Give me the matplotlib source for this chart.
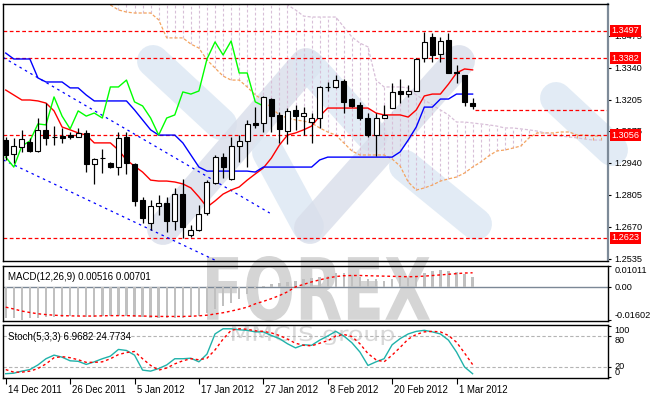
import numpy as np
import matplotlib
matplotlib.use("Agg")
import matplotlib.pyplot as plt
from matplotlib.lines import Line2D
from matplotlib.textpath import TextPath
from matplotlib.patches import PathPatch
from matplotlib.font_manager import FontProperties
from matplotlib.transforms import Affine2D, ScaledTranslation, blended_transform_factory

plt.rcParams['font.family'] = ['Liberation Sans', 'DejaVu Sans']

# ---------------- data (EURUSD daily, 14 Dec 2011 - 5 Mar 2012) ----------------
opens = [1.3036, 1.2977, 1.3007, 1.3028, 1.2990, 1.3079, 1.3049, 1.3051, 1.3057, 1.3049,
         1.3066, 1.2935, 1.2961, 1.2939, 1.2922, 1.3049, 1.2935, 1.2783, 1.2686, 1.2758,
         1.2770, 1.2694, 1.2808, 1.2635, 1.2656, 1.2728, 1.2855, 1.2964, 1.2872, 1.3011,
         1.3032, 1.3108, 1.3108, 1.3209, 1.3142, 1.3074, 1.3163, 1.3137, 1.3112, 1.3129,
         1.3261, 1.3260, 1.3285, 1.3209, 1.3184, 1.3129, 1.3057, 1.3129, 1.3171, 1.3243,
         1.3230, 1.3243, 1.3382, 1.3471, 1.3399, 1.3458, 1.3323, 1.3310, 1.3192]
highs = [1.3049, 1.3045, 1.3079, 1.3045, 1.3129, 1.3192, 1.3095, 1.3087, 1.3070, 1.3087,
         1.3079, 1.2960, 1.2998, 1.2943, 1.3070, 1.3070, 1.2939, 1.2796, 1.2783, 1.2804,
         1.2796, 1.2834, 1.2872, 1.2678, 1.2762, 1.2867, 1.2973, 1.2981, 1.3049, 1.3057,
         1.3121, 1.3175, 1.3220, 1.3213, 1.3154, 1.3171, 1.3184, 1.3175, 1.3150, 1.3264,
         1.3281, 1.3310, 1.3294, 1.3213, 1.3197, 1.3150, 1.3150, 1.3184, 1.3277, 1.3294,
         1.3268, 1.3382, 1.3492, 1.3488, 1.3471, 1.3488, 1.3353, 1.3310, 1.3213]
lows = [1.2952, 1.2939, 1.2986, 1.2986, 1.2986, 1.3015, 1.3015, 1.3024, 1.3040, 1.3049,
        1.2901, 1.2851, 1.2897, 1.2918, 1.2888, 1.2893, 1.2758, 1.2686, 1.2656, 1.2720,
        1.2648, 1.2656, 1.2623, 1.2625, 1.2652, 1.2720, 1.2851, 1.2876, 1.2867, 1.2943,
        1.2922, 1.3087, 1.3070, 1.3070, 1.3024, 1.3019, 1.3079, 1.3057, 1.3024, 1.3087,
        1.3243, 1.3256, 1.3150, 1.3175, 1.3121, 1.3049, 1.2969, 1.3129, 1.3171, 1.3192,
        1.3218, 1.3243, 1.3365, 1.3365, 1.3365, 1.3319, 1.3277, 1.3180, 1.3167]
closes = [1.2973, 1.3011, 1.3040, 1.2990, 1.3079, 1.3045, 1.3047, 1.3045, 1.3050, 1.3066,
          1.2935, 1.2956, 1.2960, 1.2922, 1.3045, 1.2939, 1.2779, 1.2707, 1.2758, 1.2770,
          1.2694, 1.2808, 1.2669, 1.2656, 1.2724, 1.2859, 1.2964, 1.2922, 1.3011, 1.3032,
          1.3104, 1.3100, 1.3218, 1.3137, 1.3083, 1.3159, 1.3137, 1.3150, 1.3129, 1.3260,
          1.3260, 1.3289, 1.3197, 1.3180, 1.3129, 1.3057, 1.3129, 1.3142, 1.3239, 1.3230,
          1.3243, 1.3378, 1.3450, 1.3395, 1.3454, 1.3319, 1.3319, 1.3197, 1.3180]

tenkan = [1.3247, 1.3226, 1.3205, 1.3205, 1.3201, 1.3192, 1.3159, 1.3091, 1.3079, 1.3066,
          1.3057, 1.3024, 1.3024, 1.3024, 1.2994, 1.2952, 1.2926, 1.2901, 1.2867, 1.2863,
          1.2863, 1.2859, 1.2851, 1.2834, 1.2796, 1.2753, 1.2779, 1.2808, 1.2825, 1.2838,
          1.2867, 1.2893, 1.2918, 1.2960, 1.3015, 1.3057, 1.3066, 1.3079, 1.3095, 1.3137,
          1.3171, 1.3171, 1.3171, 1.3171, 1.3171, 1.3171, 1.3150, 1.3142, 1.3142, 1.3142,
          1.3133, 1.3163, 1.3222, 1.3230, 1.3230, 1.3272, 1.3319, 1.3336, 1.3332]
kijun = [1.3403, 1.3378, 1.3378, 1.3378, 1.3298, 1.3281, 1.3281, 1.3281, 1.3256, 1.3256,
         1.3226, 1.3201, 1.3201, 1.3201, 1.3201, 1.3201, 1.3163, 1.3121, 1.3079, 1.3057,
         1.3057, 1.3057, 1.3024, 1.2973, 1.2922, 1.2905, 1.2905, 1.2905, 1.2905, 1.2905,
         1.2905, 1.2901, 1.2922, 1.2922, 1.2922, 1.2922, 1.2922, 1.2922, 1.2922, 1.2952,
         1.2964, 1.2964, 1.2964, 1.2964, 1.2964, 1.2964, 1.2964, 1.2964, 1.2964, 1.2986,
         1.3036, 1.3091, 1.3175, 1.3175, 1.3209, 1.3209, 1.3230, 1.3230, 1.3230]
nan = float('nan')
# Senkou spans run 26 bars ahead; values above the visible range are off-chart
span_a = [nan] * 13 + [
    1.3606, 1.3585, 1.3576, 1.3572, 1.3572, 1.3572, 1.3543, 1.3467, 1.3467, 1.3467,
    1.3441, 1.3424, 1.3374, 1.3340, 1.3306, 1.3289, 1.3289, 1.3260, 1.3226, 1.3205,
    1.3171, 1.3142, 1.3129, 1.3121, 1.3116, 1.3108, 1.3087, 1.3070, 1.3057, 1.3024,
    1.2990, 1.2973, 1.2973, 1.2973, 1.2973, 1.2956, 1.2926, 1.2859, 1.2825, 1.2834,
    1.2846, 1.2863, 1.2872, 1.2880, 1.2897, 1.2922, 1.2943, 1.2969, 1.2990, 1.2994,
    1.3002, 1.3011, 1.3045, 1.3066, 1.3066, 1.3066, 1.3070, 1.3070, 1.3057, 1.3057,
    1.3053, 1.3053]
span_b = [nan] * 13 + [1.3700] * 22 + [
    1.3606, 1.3585, 1.3559, 1.3555, 1.3555, 1.3555, 1.3555, 1.3513, 1.3471, 1.3445,
    1.3429, 1.3289, 1.3260, 1.3260, 1.3260, 1.3256, 1.3226, 1.3205, 1.3184, 1.3163,
    1.3142, 1.3112, 1.3112, 1.3108, 1.3104, 1.3100, 1.3095, 1.3087, 1.3087, 1.3083,
    1.3079, 1.3074, 1.3066, 1.3057, 1.3053, 1.3049, 1.3045, 1.3040, 1.3036, 1.3036]

# channel trend lines (bar index, price)
channel_upper = ([-0.3, 32.8], [1.3384, 1.2728])
channel_lower = ([-0.3, 32.8], [1.2952, 1.2420])
levels_full = [1.3497, 1.3382, 1.3056, 1.2623]
level_labels = ["1.3497", "1.3382", "1.3056", "1.2623"]
level_partial = (58.3, 1.3163)

price_ticks = [1.3475, 1.3340, 1.3205, 1.3075, 1.2940, 1.2805, 1.2670, 1.2535]
price_tick_labels = ["1.3475", "1.3340", "1.3205", "1.3075", "1.2940", "1.2805", "1.2670", "1.2535"]

macd_hist = [-0.0150, -0.0150, -0.0157, -0.0150, -0.0150, -0.0145, -0.0145, -0.0145, -0.0141, -0.0141,
             -0.0145, -0.0145, -0.0141, -0.0137, -0.0137, -0.0141, -0.0145, -0.0145, -0.0150, -0.0150,
             -0.0150, -0.0150, -0.0150, -0.0145, -0.0137, -0.0124, -0.0104, -0.0090, -0.0075, -0.0055,
             -0.0030, -0.0010, 0.0007, 0.0017, 0.0022, 0.0027, 0.0032, 0.0038, 0.0043, 0.0052,
             0.0057, 0.0067, 0.0067, 0.0060, 0.0052, 0.0040, 0.0040, 0.0032, 0.0040, 0.0043,
             0.0043, 0.0057, 0.0071, 0.0080, 0.0086, 0.0080, 0.0076, 0.0063, 0.00516]
macd_signal = [-0.0096, -0.0105, -0.0115, -0.0122, -0.0128, -0.0132, -0.0135, -0.0137, -0.0138, -0.0139,
               -0.0139, -0.0139, -0.0138, -0.0137, -0.0137, -0.0137, -0.0138, -0.0139, -0.0140, -0.0141,
               -0.0141, -0.0141, -0.0141, -0.0140, -0.0138, -0.0135, -0.0129, -0.0123, -0.0115, -0.0106,
               -0.0096, -0.0080, -0.0068, -0.0055, -0.0040, -0.0022, 0.0002, 0.0014, 0.0026, 0.0036,
               0.0045, 0.0052, 0.0056, 0.0057, 0.0057, 0.0056, 0.0055, 0.0054, 0.0053, 0.0052,
               0.0051, 0.0052, 0.0054, 0.0057, 0.0060, 0.0063, 0.0066, 0.0069, 0.00701]
macd_ticks = [0.01011, 0.0, -0.01602]
macd_tick_labels = ["0.01011", "0.00", "-0.01602"]

stoch_main = [7, 8, 12, 15, 24, 36, 43, 39, 32, 31,
              25, 30, 36, 41, 54, 52, 43, 14, 12, 17,
              24, 36, 36, 37, 30, 45, 84, 94, 94, 92,
              91, 88, 88, 81, 75, 65, 57, 63, 62, 72,
              80, 89, 80, 67, 49, 23, 30, 36, 63, 75,
              84, 89, 91, 88, 84, 72, 49, 20, 6.9682]
stoch_signal = [15, 10, 10, 12, 17, 26, 38, 40, 38, 34,
                29, 29, 30, 36, 44, 48, 50, 36, 23, 14,
                18, 26, 32, 36, 34, 37, 53, 74, 91, 94,
                93, 90, 89, 86, 81, 74, 66, 62, 61, 66,
                71, 80, 83, 79, 65, 46, 34, 30, 43, 58,
                74, 83, 88, 89, 88, 81, 68, 47, 24.7734]
stoch_ticks = [100, 80, 20, 0]
stoch_levels = [80, 20]

date_idx = [0, 8, 16, 24, 32, 40, 48, 56]
date_labels = ["14 Dec 2011", "26 Dec 2011", "5 Jan 2012", "17 Jan 2012",
               "27 Jan 2012", "8 Feb 2012", "20 Feb 2012", "1 Mar 2012"]

# ---------------- figure layout ----------------
W, H = 650, 398
fig = plt.figure(figsize=(W / 100, H / 100), dpi=100)
fig.patch.set_facecolor('white')

def box(x0, y0, x1, y1):
    return [x0 / W, 1 - y1 / H, (x1 - x0) / W, (y1 - y0) / H]

ax = fig.add_axes(box(3, 4, 608, 261))
axm = fig.add_axes(box(3, 266, 608, 321))
axs = fig.add_axes(box(3, 325, 608, 378))
XL = (-0.34, 74.82)
FS = 6.6

# ---------------- watermark (decorative logo) ----------------
LIGHT, GREY = '#dbe7f3', '#d9deea'
bands = [((153, 61), (221, 124), LIGHT),
         ((163, 229), (306, 64), GREY),
         ((268, 152), (308, 226), LIGHT),
         ((309, 66), (372, 136), LIGHT),
         ((310, 228), (459, 61), GREY),
         ((405, 166), (476, 224), LIGHT),
         ((556, 98), (612, 150), LIGHT)]
for (p0, p1, col) in bands:
    fig.add_artist(Line2D([p0[0] / W, p1[0] / W], [1 - p0[1] / H, 1 - p1[1] / H],
                          transform=fig.transFigure, color=col, lw=23,
                          solid_capstyle='round', zorder=-3, alpha=0.8))

def fit_text(s, x0, y0, x1, y1, color, weight='bold'):
    tp = TextPath((0, 0), s, size=1, prop=FontProperties(family='DejaVu Sans', weight=weight))
    bb = tp.get_extents()
    tr = (Affine2D().translate(-bb.x0, -bb.y0)
          .scale((x1 - x0) / bb.width / W, (y1 - y0) / bb.height / H)
          .translate(x0 / W, 1 - y1 / H) + fig.transFigure)
    fig.add_artist(PathPatch(tp, transform=tr, facecolor=color, edgecolor='none', zorder=-2))

fit_text("FOREX", 207, 256, 430, 321, '#d5d5d5')
fit_text("MMCIS group", 232, 326, 394, 345, '#d8d8d8', weight='normal')

for a in (ax, axm, axs):
    a.set_facecolor('none')
    a.set_xlim(*XL)
    for sp in a.spines.values():
        sp.set_color('black')
        sp.set_linewidth(1.0)
    a.tick_params(axis='x', bottom=False, labelbottom=False)
    a.tick_params(axis='y', left=False, labelleft=False, right=True, labelright=True,
                  direction='out', length=2.5, width=0.8, pad=2, labelsize=FS)
ax.spines['right'].set_color('#7d8a98')
ax.spines['right'].set_linewidth(1.6)

# ---------------- main panel ----------------
idx = np.arange(len(closes))
o, h, l, c = map(np.array, (opens, highs, lows, closes))
cidx = np.arange(len(span_a))
sa, sb = np.array(span_a), np.array(span_b)

ax.set_ylim(1.25257, 1.36100)

# cloud
ok = ~np.isnan(sa) & ~np.isnan(sb)
cols = ['#d8bfd8' if bv >= av else '#f4a460' for av, bv in zip(sa[ok], sb[ok])]
ax.vlines(cidx[ok], np.minimum(sa[ok], sb[ok]), np.maximum(sa[ok], sb[ok]),
          colors=cols, linestyles=(0, (2.5, 2)), lw=0.8, zorder=1)
ax.plot(cidx, sa, color='#f4a460', lw=0.9, ls=(0, (2.5, 1.5)), zorder=2)
ax.plot(cidx, sb, color='#d8bfd8', lw=0.9, ls=(0, (2.5, 1.5)), zorder=2)

# level lines
for lv in levels_full:
    ax.axhline(lv, color='red', lw=0.9, ls=(0, (3, 2)), zorder=2)
ax.plot([level_partial[0], XL[1]], [level_partial[1]] * 2, color='red', lw=0.9,
        ls=(0, (3, 2)), zorder=2)

# channel
ax.plot(*channel_upper, color='blue', lw=0.9, ls=(0, (2, 3)), zorder=2)
ax.plot(*channel_lower, color='blue', lw=0.9, ls=(0, (2, 3)), zorder=2)

# ichimoku lines
ax.plot(idx, tenkan, color='#ff0000', lw=1, zorder=3)
ax.plot(idx, kijun, color='#0000ff', lw=1, zorder=3)
ax.plot(idx[:len(closes) - 26], c[26:], color='#00ff00', lw=1, zorder=3)

# candles
ax.vlines(idx, l, h, color='black', lw=0.9, zorder=4)
body_col = ['white' if cc > oo else 'black' for oo, cc in zip(o, c)]
ax.bar(idx, np.maximum(np.abs(c - o), 0.00002), bottom=np.minimum(o, c), width=0.62,
       color=body_col, edgecolor='black', linewidth=0.8, zorder=5)

ax.set_yticks(price_ticks)
ax.set_yticklabels(price_tick_labels)
ytr = blended_transform_factory(ax.transAxes, ax.transData)
for lv, lab in zip(levels_full, level_labels):
    ax.text(1.0 + 3.5 / 605, lv, lab, transform=ytr, color='white', fontsize=FS,
            ha='left', va='center', zorder=20, clip_on=False,
            bbox=dict(boxstyle='square,pad=0.18', fc='#ff0000', ec='none'))

# ---------------- MACD panel ----------------
axm.set_ylim(-0.0163, 0.0103)
axm.axhline(0, color='#7b8896', lw=1, zorder=1)
axm.bar(idx, macd_hist, width=0.3, color='#c0c0c0', zorder=2)
axm.plot(idx, macd_signal, color='red', lw=1, ls=(0, (2, 2)), zorder=3)
axm.set_yticks(macd_ticks)
axm.set_yticklabels(macd_tick_labels)
for lab, va in zip(axm.get_yticklabels(), ['top', 'center', 'bottom']):
    lab.set_va(va)
axm.text(5 / 605, 0.90, "MACD(12,26,9) 0.00516 0.00701", transform=axm.transAxes,
         fontsize=FS + 0.4, ha='left', va='top', color='black')

# ---------------- Stochastic panel ----------------
axs.set_ylim(-1.3, 101.3)
for lv in stoch_levels:
    axs.axhline(lv, color='#b4b4b4', lw=0.8, ls=(0, (3, 2)), zorder=1)
axs.plot(idx, stoch_main, color='#20b2aa', lw=1, zorder=3)
axs.plot(idx, stoch_signal, color='red', lw=1, ls=(0, (2, 2)), zorder=3)
axs.set_yticks(stoch_ticks)
axs.set_yticklabels([str(t) for t in stoch_ticks])
for lab, va in zip(axs.get_yticklabels(), ['top', 'top', 'center', 'bottom']):
    lab.set_va(va)
axs.text(5 / 605, 0.86, "Stoch(5,3,3) 6.9682 24.7734", transform=axs.transAxes,
         fontsize=FS + 0.4, ha='left', va='top', color='black')

axs.tick_params(axis='x', bottom=True, labelbottom=True, direction='out', length=4,
                width=0.8, pad=1, labelsize=FS + 0.3)
axs.set_xticks(date_idx)
axs.set_xticklabels(date_labels)
off = ScaledTranslation(2 / 100, 0, fig.dpi_scale_trans)
for lab in axs.get_xticklabels():
    lab.set_ha('left')
    lab.set_transform(lab.get_transform() + off)

fig.savefig('out.png', dpi=100, facecolor='white')
